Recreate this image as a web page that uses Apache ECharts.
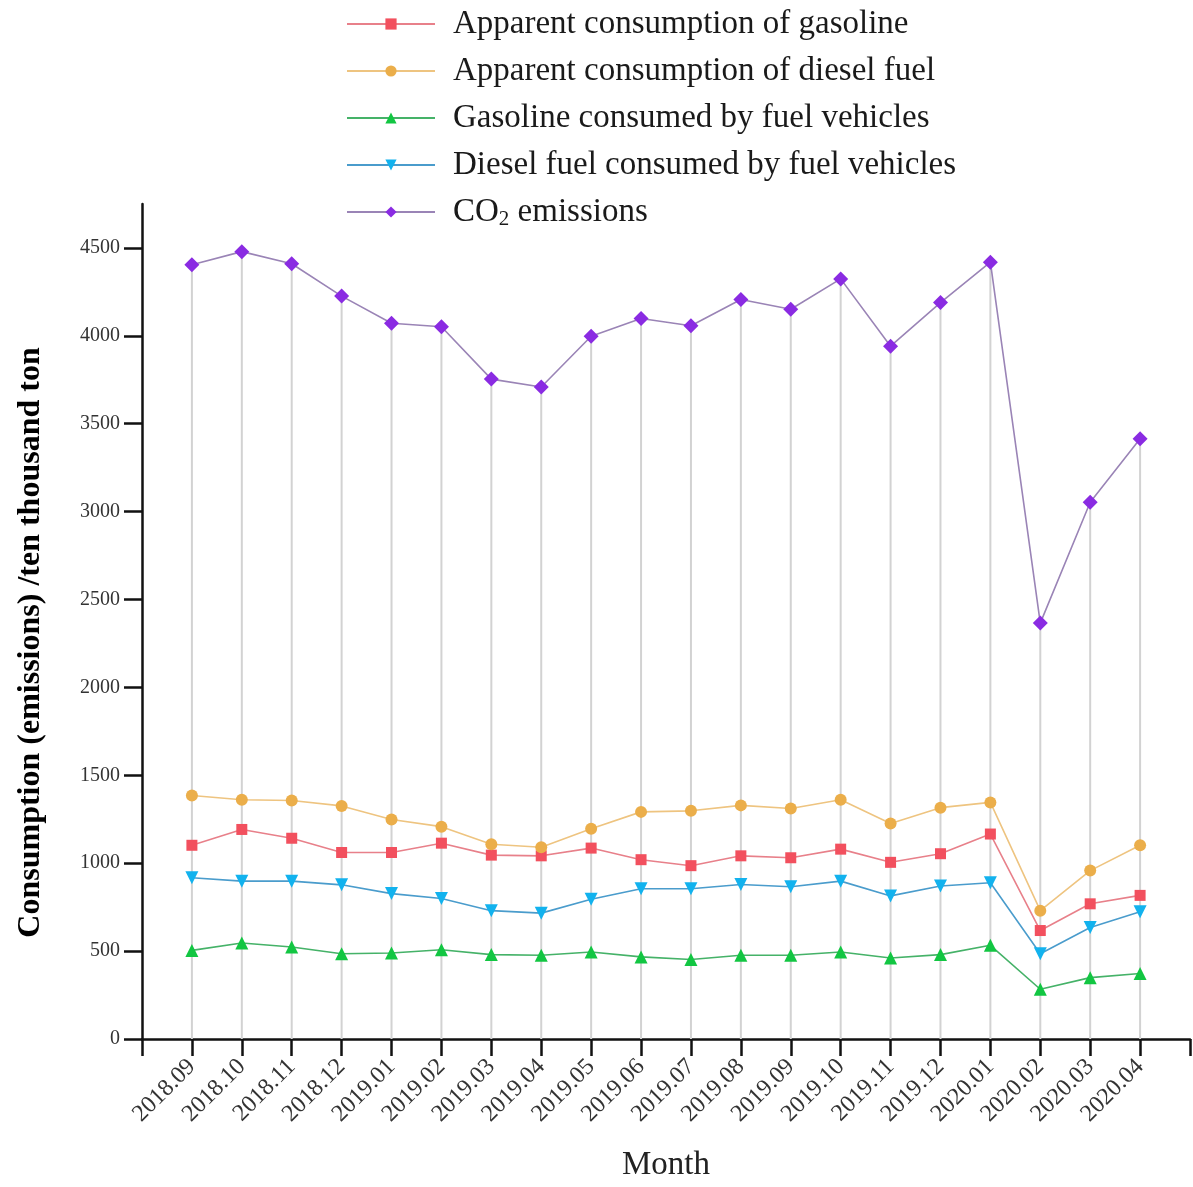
<!DOCTYPE html>
<html>
<head>
<meta charset="utf-8">
<script src="https://cdn.jsdelivr.net/npm/echarts@6/dist/echarts.min.js"></script>
<style>
html,body{margin:0;padding:0;background:#fff;}
#chart{width:1193px;height:1187px;}
</style>
</head>
<body>
<div id="chart"></div>
<script>
const months = ['2018.09','2018.10','2018.11','2018.12','2019.01','2019.02','2019.03','2019.04','2019.05','2019.06','2019.07','2019.08','2019.09','2019.10','2019.11','2019.12','2020.01','2020.02','2020.03','2020.04'];
const gasolineApparent = [1102,1192,1142,1061,1061,1114,1046,1042,1086,1020,986,1042,1031,1080,1005,1054,1166,617,769,817];
const dieselApparent = [1385,1361,1357,1326,1249,1208,1108,1091,1196,1292,1298,1329,1311,1361,1226,1316,1346,730,958,1102];
const gasolineVehicles = [504,546,523,485,489,508,480,476,495,467,452,476,476,495,461,480,533,283,349,373];
const dieselVehicles = [917,898,898,877,827,799,730,716,795,855,855,879,866,898,814,870,889,485,634,724];
const co2Emissions = [4404,4479,4410,4226,4072,4052,3754,3709,3998,4099,4057,4207,4151,4324,3941,4189,4419,2366,3053,3414];
const yTicks = [0,500,1000,1500,2000,2500,3000,3500,4000,4500];

const FONT = "'Liberation Serif','Times New Roman',serif";
const toPairs = arr => arr.map((v, i) => [i + 1, v]);

function lineSeries(name, data, symbol, size, markerColor, lineColor, rotate) {
  return {
    name: name,
    type: 'line',
    data: toPairs(data),
    symbol: symbol,
    symbolSize: size,
    symbolRotate: rotate || 0,
    itemStyle: { color: markerColor },
    lineStyle: { color: lineColor, width: 1.6 },
    z: 3
  };
}

const chart = echarts.init(document.getElementById('chart'));
chart.setOption({
  animation: false,
  backgroundColor: '#fff',
  textStyle: { fontFamily: FONT },
  legend: {
    orient: 'vertical',
    left: 346,
    top: 7,
    padding: 0,
    itemWidth: 88,
    itemHeight: 14,
    itemGap: 13,
    data: ['Apparent consumption of gasoline','Apparent consumption of diesel fuel','Gasoline consumed by fuel vehicles','Diesel fuel consumed by fuel vehicles','CO2 emissions'],
    formatter: function (name) {
      return name === 'CO2 emissions' ? 'CO{sub|2} emissions' : name;
    },
    textStyle: {
      fontFamily: FONT,
      fontSize: 33,
      lineHeight: 34,
      color: '#1a1a1a',
      padding: [0, 0, 0, 13],
      rich: {
        sub: { fontFamily: FONT, fontSize: 21, color: '#1a1a1a', padding: [14, 0, 0, 0] }
      }
    }
  },
  grid: { left: 142, right: 3, top: 204, bottom: 139, containLabel: false },
  xAxis: {
    type: 'value',
    min: 0,
    max: 21,
    interval: 1,
    name: 'Month',
    nameLocation: 'middle',
    nameGap: 110,
    nameTextStyle: { fontFamily: FONT, fontSize: 33, color: '#222' },
    splitLine: { show: false },
    axisLine: { show: true, lineStyle: { color: '#111', width: 2.5 } },
    axisTick: { show: true, inside: false, length: 17, lineStyle: { color: '#111', width: 2.5 } },
    axisLabel: {
      rotate: 45,
      margin: 24,
      fontFamily: FONT,
      fontSize: 24,
      color: '#333',
      showMinLabel: true,
      showMaxLabel: true,
      formatter: function (v) { return months[v - 1] || ''; }
    }
  },
  yAxis: {
    type: 'value',
    min: 0,
    max: 4750,
    interval: 500,
    name: 'Consumption (emissions) /ten thousand ton',
    nameLocation: 'middle',
    nameGap: 95,
    nameRotate: 90,
    nameTextStyle: { fontFamily: FONT, fontSize: 32, fontWeight: 'bold', color: '#000', padding: [0, 42, 0, 0] },
    splitLine: { show: false },
    axisLine: { show: true, lineStyle: { color: '#111', width: 2.5 } },
    axisTick: { show: true, length: 18, customValues: yTicks, lineStyle: { color: '#111', width: 2.5 } },
    axisLabel: {
      margin: 22,
      fontFamily: FONT,
      fontSize: 20,
      color: '#333',
      customValues: yTicks,
      formatter: function (v) { return yTicks.indexOf(v) >= 0 ? String(v) : ''; }
    }
  },
  series: [
    {
      name: 'drop',
      type: 'bar',
      data: toPairs(co2Emissions),
      barWidth: 2,
      itemStyle: { color: '#d2d2d2' },
      silent: true,
      z: 1
    },
    lineSeries('Apparent consumption of gasoline', gasolineApparent, 'rect', 11, '#f2505e', '#e8808a'),
    lineSeries('Apparent consumption of diesel fuel', dieselApparent, 'circle', 12, '#ebae4a', '#eec480'),
    lineSeries('Gasoline consumed by fuel vehicles', gasolineVehicles, 'triangle', 13, '#12c642', '#45b268'),
    lineSeries('Diesel fuel consumed by fuel vehicles', dieselVehicles, 'triangle', 13, '#12b2ee', '#4a9ccc', 180),
    lineSeries('CO2 emissions', co2Emissions, 'diamond', 15, '#8a2be2', '#9a84b6')
  ]
});
</script>
</body>
</html>
